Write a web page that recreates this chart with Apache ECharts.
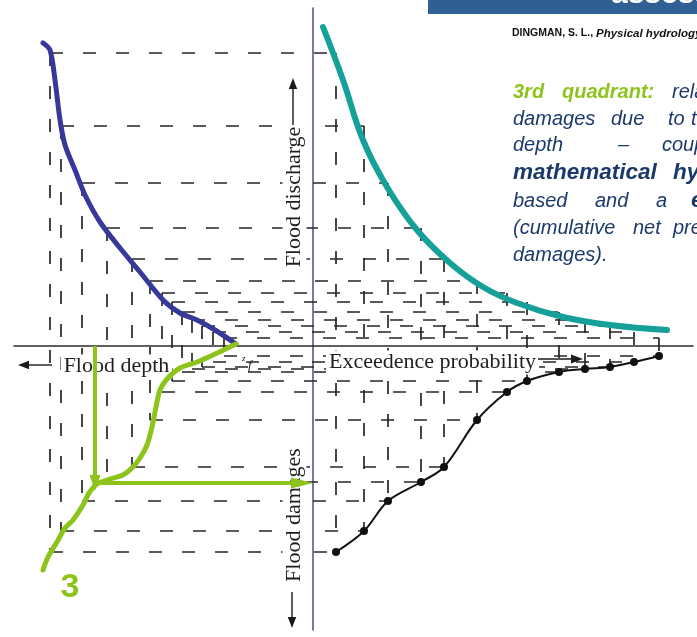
<!DOCTYPE html>
<html>
<head>
<meta charset="utf-8">
<script src="https://cdn.jsdelivr.net/npm/echarts@6/dist/echarts.min.js"></script>
<style>
html,body{margin:0;padding:0;background:#fff}
#chart{width:697px;height:637px}
</style>
</head>
<body>
<div id="chart"></div>
<script>
// Four-quadrant flood damage construction.
// x > 0 : exceedence probability, x < 0 : flood depth (drawn to the left)
// y > 0 : flood discharge,        y < 0 : flood damages (drawn downwards)

// one entry per analysed flood event
const exceedProb  = [23, 51, 75, 108, 131, 164, 194, 214, 246, 272, 297, 321, 346];
const discharge   = [293, 220, 163, 118, 87, 65, 53, 44, 34, 26, 20, 14, 8];
const floodDepth  = [263, 252, 231, 206, 181, 163, 151, 141, 131, 121, 111, 100, 89];
const floodDamage = [206, 185, 155, 136, 121, 74, 46, 35, 26, 23, 21, 16, 10];

// sketched relations, [x, y] pairs
const probDischargeCurve = [[10,319],[30,266],[50,206],[74,159],[104,116],[137,83],[170,59],[204,43],[250,29],[297,21],[354,16]];
const depthDischargeCurve = [[-270,303],[-263,296],[-258,266],[-253,226],[-248,201],[-238,176],[-228,151],[-213,124],[-193,98],[-173,74],[-150,46],[-133,33],[-116,26],[-98,16],[-77,2]];
const depthDamageCurve = [[-77,2],[-100,-9],[-116,-16],[-133,-22],[-146,-33],[-153,-44],[-157,-61],[-161,-81],[-166,-99],[-173,-112],[-181,-122],[-190,-129],[-203,-133],[-216,-138],[-224,-147],[-230,-159],[-240,-174],[-248,-182],[-256,-196],[-265,-211],[-270,-224]];

const readDepth = 218;
const readDamage = 137;

const C = {
  grid: '#262626',
  axisH: '#2b2b2b',
  axisV: '#4a4a90',
  blue: '#36389a',
  teal: '#16a09a',
  green: '#8dc41c',
  navy: '#1b3a6a',
  bar: '#2f5f93'
};

// dashed construction lines: each event closes a rectangle through all four quadrants
const constructionSegs = [];
for (let i = 0; i < exceedProb.length; i++) {
  const p = exceedProb[i], q = discharge[i], z = -floodDepth[i], d = -floodDamage[i];
  constructionSegs.push({ coords: [[z, q], [p, q]] });
  constructionSegs.push({ coords: [[p, q], [p, d]] });
  constructionSegs.push({ coords: [[z, q], [z, d]] });
  constructionSegs.push({ coords: [[z, d], [p, d]] });
}
const probDamagePoints = exceedProb.map((p, i) => [p, -floodDamage[i]]);

const arrowShafts = [
  { coords: [[-readDepth, 0], [-readDepth, -readDamage + 6]] },
  { coords: [[-readDepth + 2, -readDamage], [-12, -readDamage]] }
];
const arrowHeads = [
  { value: [-readDepth, -readDamage], symbolSize: [11, 16], symbolRotate: 180 },
  { value: [-11, -readDamage], symbolSize: [11, 22], symbolRotate: -90 }
];

const serif = '"Liberation Serif", "DejaVu Serif", serif';
const sans = '"Liberation Sans", Arial, sans-serif';

// explanatory text block, words placed individually (justified layout)
const noteLines = [
  { y: 99,  words: [['3rd', 513, 'g'], ['quadrant:', 562, 'g'], ['relates', 672, 'n']] },
  { y: 126, words: [['damages', 513, 'n'], ['due', 611, 'n'], ['to', 668, 'n'], ['the', 691, 'n']] },
  { y: 152, words: [['depth', 513, 'n'], ['\u2013', 618, 'n'], ['coupled', 662, 'n']] },
  { y: 180, words: [['mathematical', 513, 'b'], ['hydraulic', 673, 'b']] },
  { y: 208, words: [['based', 513, 'n'], ['and', 595, 'n'], ['a', 656, 'n'], ['economic', 691, 'b']] },
  { y: 235, words: [['(cumulative', 513, 'n'], ['net', 633, 'n'], ['present', 673, 'n']] },
  { y: 262, words: [['damages).', 513, 'n']] }
];
const noteFonts = {
  g: { font: 'italic bold 20px ' + sans, fill: C.green, size: 20 },
  n: { font: 'italic 20px ' + sans, fill: C.navy, size: 20 },
  b: { font: 'italic bold 22.5px ' + sans, fill: C.navy, size: 22.5 }
};
const noteGraphics = [];
noteLines.forEach(line => {
  line.words.forEach(([t, x, k]) => {
    const f = noteFonts[k];
    noteGraphics.push({
      type: 'text', x: x, y: line.y - 0.34 * f.size, z: 20,
      style: { text: t, font: f.font, fill: f.fill, verticalAlign: 'middle', align: 'left' }
    });
  });
});

function arrow(x1, y1, x2, y2, head) {
  // straight label arrow pointing from (x1,y1) to (x2,y2)
  const dx = x2 - x1, dy = y2 - y1, L = Math.hypot(dx, dy);
  const ux = dx / L, uy = dy / L;
  const bx = x2 - ux * head, by = y2 - uy * head;
  const w = head * 0.38;
  return [
    { type: 'line', z: 6, shape: { x1: x1, y1: y1, x2: bx + ux * 2, y2: by + uy * 2 },
      style: { stroke: '#1a1a1a', lineWidth: 1.4 } },
    { type: 'polygon', z: 6, shape: { points: [[x2, y2], [bx - uy * w, by + ux * w], [bx + uy * w, by - ux * w]] },
      style: { fill: '#1a1a1a' } }
  ];
}

const labelStyle = { font: '22px ' + serif, fill: '#1e1e1e', backgroundColor: '#fff', padding: [1, 3], verticalAlign: 'middle' };

const graphics = [
  { type: 'rect', z: 20, shape: { x: 428, y: 0, width: 269, height: 14 }, style: { fill: C.bar } },
  { type: 'text', z: 21, x: 611, y: -5,
    style: { text: 'assessment', font: 'bold 30px ' + sans, fill: '#fff', verticalAlign: 'middle' } },
  { type: 'text', z: 20, x: 512, y: 33.6,
    style: {
      text: '{a|DINGMAN, S. L., }{b|Physical hydrology}', verticalAlign: 'middle',
      rich: {
        a: { fontFamily: sans, fontSize: 10.5, fontWeight: 'bold', fill: '#111' },
        b: { fontFamily: sans, fontSize: 11.5, fontWeight: 'bold', fontStyle: 'italic', fill: '#111' }
      }
    } },
  ...noteGraphics,
  { type: 'text', z: 5, x: 116.5, y: 366.5, style: Object.assign({ text: 'Flood depth', align: 'center' }, labelStyle) },
  { type: 'text', z: 5, x: 326, y: 362.5, style: Object.assign({ text: 'Exceedence probability', align: 'left' }, labelStyle) },
  { type: 'text', z: 5, x: 294.5, y: 197, rotation: Math.PI / 2, style: Object.assign({ text: 'Flood discharge', align: 'center' }, labelStyle) },
  { type: 'text', z: 5, x: 294.5, y: 515, rotation: Math.PI / 2, style: Object.assign({ text: 'Flood damages', align: 'center' }, labelStyle) },
  ...arrow(293, 125, 293, 78, 11),
  ...arrow(292, 592, 292, 628, 11),
  ...arrow(52, 365, 18, 365, 11),
  ...arrow(538, 359, 583, 359, 12),
  { type: 'text', z: 5, x: 242, y: 359, style: { text: 'z', font: 'italic 9px ' + serif, fill: '#222', verticalAlign: 'middle' } },
  { type: 'text', z: 5, x: 248, y: 366, style: { text: 'f', font: 'italic 13px ' + serif, fill: '#222', verticalAlign: 'middle' } },
  { type: 'text', z: 12, x: 70, y: 588, style: { text: '3', font: 'bold 34px ' + sans, fill: C.green, align: 'center', verticalAlign: 'middle' } }
];

const chart = echarts.init(document.getElementById('chart'), null, { renderer: 'canvas' });
chart.setOption({
  animation: false,
  backgroundColor: '#fff',
  grid: { left: 14, right: 4, top: 8, bottom: 7 },
  xAxis: {
    type: 'value', min: -299, max: 380,
    axisLine: { show: true, onZero: true, lineStyle: { color: C.axisH, width: 1.6 } },
    axisTick: { show: false }, axisLabel: { show: false }, splitLine: { show: false }
  },
  yAxis: {
    type: 'value', min: -284, max: 338,
    axisLine: { show: true, onZero: true, lineStyle: { color: C.axisV, width: 1.5 } },
    axisTick: { show: false }, axisLabel: { show: false }, splitLine: { show: false }
  },
  series: [
    {
      type: 'lines', coordinateSystem: 'cartesian2d', z: 1, silent: true,
      lineStyle: { color: C.grid, width: 1.7, type: [13, 20], opacity: 1 },
      data: constructionSegs
    },
    {
      type: 'line', z: 6, silent: true, data: probDamagePoints,
      smooth: 0.35, symbol: 'circle', symbolSize: 8, showSymbol: true,
      lineStyle: { color: '#111', width: 2 }, itemStyle: { color: '#111' }
    },
    {
      type: 'line', z: 10, silent: true, data: probDischargeCurve, smooth: 0.4, showSymbol: false,
      lineStyle: { color: C.teal, width: 6, cap: 'round' }
    },
    {
      type: 'line', z: 10, silent: true, data: depthDischargeCurve, smooth: 0.3, showSymbol: false,
      lineStyle: { color: C.blue, width: 5, cap: 'round' }
    },
    {
      type: 'line', z: 10, silent: true, data: depthDamageCurve, smooth: 0.3, showSymbol: false,
      lineStyle: { color: C.green, width: 5, cap: 'round' }
    },
    {
      type: 'lines', coordinateSystem: 'cartesian2d', z: 10, silent: true,
      lineStyle: { color: C.green, width: 4, opacity: 1 },
      data: arrowShafts
    },
    {
      type: 'scatter', z: 11, silent: true, symbol: 'triangle',
      itemStyle: { color: C.green, opacity: 1 },
      data: arrowHeads
    }
  ],
  graphic: graphics
});
</script>
</body>
</html>
